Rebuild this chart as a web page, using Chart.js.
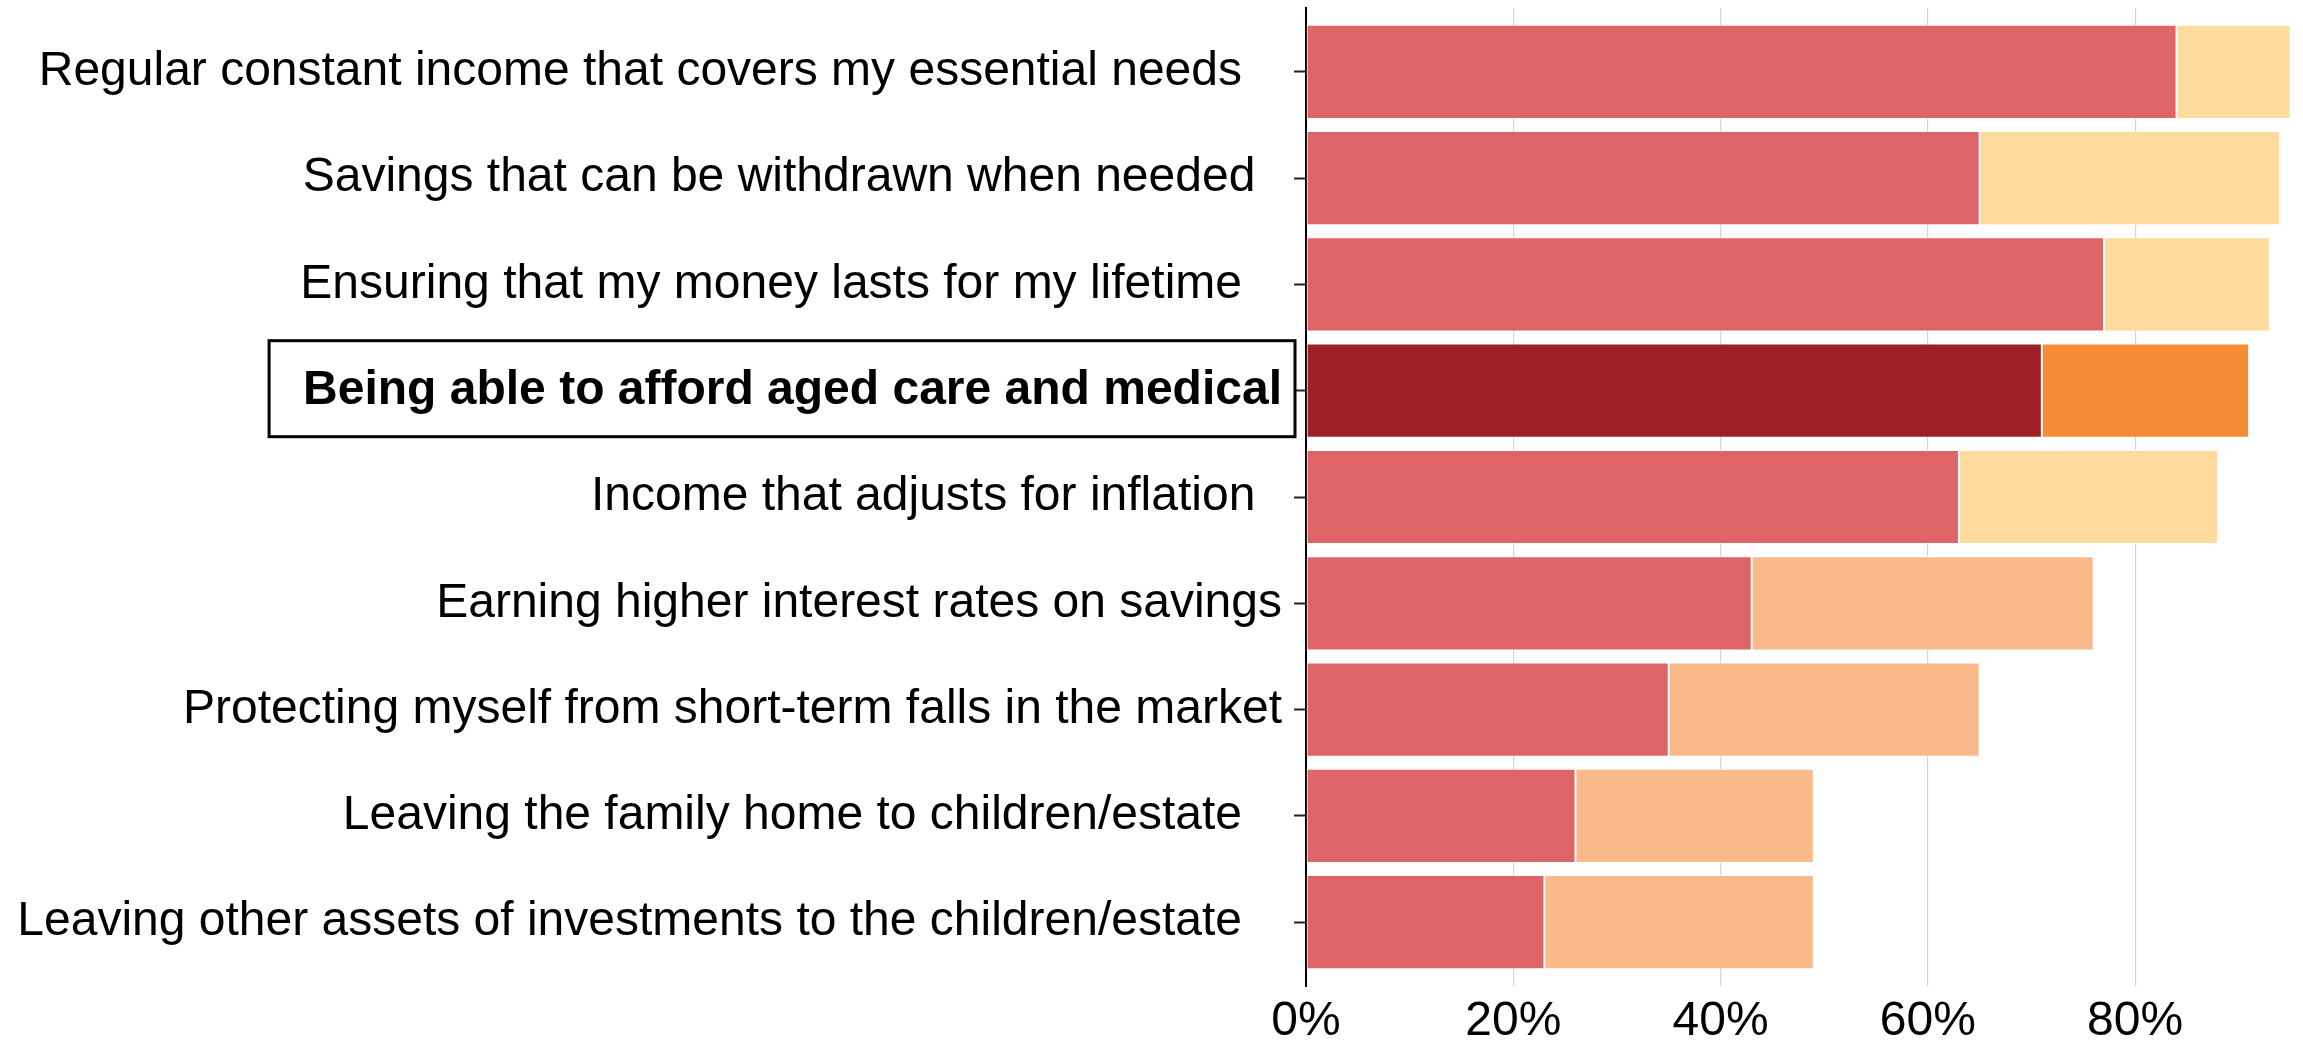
<!DOCTYPE html>
<html lang="en">
<head>
  <meta charset="UTF-8">
  <title>Retirement priorities</title>
  <script src="https://cdn.jsdelivr.net/npm/chart.js@4.4.0"></script>
  <style>
    body {
      margin: 0;
      background: #fff;
    }
    .chart-wrap {
      position: relative;
      width: 2303px;
      height: 1043px;
    }
  </style>
</head>
<body>
  <div class="chart-wrap">
    <canvas id="chartPriorities"></canvas>
  </div>

  <script>
    // trailing spaces keep the right edges of the labels where they sat in the source
    const categories = [
      'Regular constant income that covers my essential needs   ',
      'Savings that can be withdrawn when needed  ',
      'Ensuring that my money lasts for my lifetime   ',
      'Being able to afford aged care and medical',
      'Income that adjusts for inflation  ',
      'Earning higher interest rates on savings',
      'Protecting myself from short-term falls in the market',
      'Leaving the family home to children/estate   ',
      'Leaving other assets of investments to the children/estate   '
    ];
    const veryImportant = [84, 65, 77, 71, 63, 43, 35, 26, 23];
    const quiteImportant = [11, 29, 16, 20, 25, 33, 30, 23, 26];
    const xTicks = [0, 20, 40, 60, 80];
    const highlight = 3;

    const frontColors = ['#df6468', '#df6468', '#df6468', '#9e2026', '#df6468', '#df6468', '#df6468', '#df6468', '#df6468'];
    const backColors = ['#fedb9c', '#fedb9c', '#fedb9c', '#f68c35', '#fedb9c', '#fab988', '#fab988', '#fab988', '#fab988'];

    const FONT = '"Liberation Sans", Arial, sans-serif';

    // box around the highlighted row label
    const labelBox = {
      id: 'labelBox',
      afterDraw(chart) {
        const y = chart.scales.y;
        const ctx = chart.ctx;
        const text = categories[highlight];
        ctx.save();
        ctx.font = 'bold 48px ' + FONT;
        const right = y.right - 24;
        const w = ctx.measureText(text).width;
        const cy = y.getPixelForValue(highlight);
        ctx.lineWidth = 3;
        ctx.strokeStyle = '#000';
        ctx.strokeRect(right - w - 34, cy - 50, w + 47, 96);
        ctx.restore();
      }
    };

    new Chart(document.getElementById('chartPriorities'), {
      type: 'bar',
      data: {
        datasets: [
          {
            label: 'Very important',
            data: veryImportant.map((v, i) => ({ x: v, y: i })),
            backgroundColor: frontColors,
            stack: 'all'
          },
          {
            label: 'Quite important',
            data: quiteImportant.map((v, i) => ({ x: v, y: i })),
            backgroundColor: backColors,
            stack: 'all'
          }
        ]
      },
      options: {
        indexAxis: 'y',
        responsive: true,
        maintainAspectRatio: false,
        animation: false,
        layout: { padding: { top: 8, right: 0, bottom: 0, left: 0 } },
        datasets: {
          bar: {
            barPercentage: 0.886,
            categoryPercentage: 1,
            borderWidth: 1,
            borderColor: 'rgba(255,255,255,0.8)',
            borderSkipped: false
          }
        },
        plugins: {
          legend: { display: false },
          tooltip: { enabled: false }
        },
        scales: {
          x: {
            type: 'linear',
            position: 'bottom',
            stacked: true,
            min: 0,
            max: 96.2,
            afterBuildTicks: s => { s.ticks = xTicks.map(v => ({ value: v })); },
            afterFit: s => {
              s.height = 57;
              s.paddingLeft = 0;
              s.paddingRight = 0;
            },
            ticks: {
              callback: v => v + '%',
              color: '#000',
              font: { family: FONT, size: 48 },
              padding: 7,
              maxRotation: 0,
              autoSkip: false
            },
            grid: {
              color: ctx => (ctx.tick && ctx.tick.value === 0) ? 'rgba(0,0,0,0)' : '#d4d4d4',
              lineWidth: 1.2,
              drawTicks: false
            },
            border: { display: false }
          },
          y: {
            type: 'linear',
            reverse: true,
            offset: false,
            min: -0.6,
            max: 8.6,
            z: 1,
            afterBuildTicks: s => { s.ticks = categories.map((c, i) => ({ value: i })); },
            afterFit: s => {
              s.width = 1306;
              s.paddingTop = 0;
              s.paddingBottom = 0;
            },
            ticks: {
              callback: v => categories[v],
              color: '#000',
              font: ctx => ({
                family: FONT,
                size: 48,
                weight: (ctx.tick && ctx.tick.value === highlight) ? 'bold' : 'normal'
              }),
              padding: 12,
              autoSkip: false
            },
            grid: {
              offset: false,
              drawOnChartArea: false,
              drawTicks: true,
              tickLength: 12,
              tickWidth: 2,
              tickColor: '#222'
            },
            border: { color: '#000', width: 2 }
          }
        }
      },
      plugins: [labelBox]
    });
  </script>
</body>
</html>
